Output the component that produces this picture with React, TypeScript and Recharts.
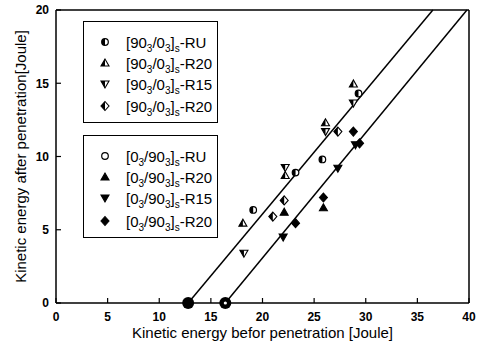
import { ScatterChart, Scatter, XAxis, YAxis, ReferenceLine } from 'recharts';

const xTicks = [0, 5, 10, 15, 20, 25, 30, 35, 40];
const yTicks = [0, 5, 10, 15, 20];

// [90_3/0_3]s group (half-filled markers)
const cross90RU = [
  { x: 19.1, y: 6.35 },
  { x: 23.2, y: 8.9 },
  { x: 25.8, y: 9.8 },
  { x: 29.3, y: 14.3 },
];
const cross90R20 = [
  { x: 18.1, y: 5.45 },
  { x: 22.2, y: 8.7 },
  { x: 26.1, y: 12.3 },
  { x: 28.8, y: 14.95 },
];
const cross90R15 = [
  { x: 18.2, y: 3.4 },
  { x: 22.2, y: 9.25 },
  { x: 26.1, y: 11.7 },
  { x: 28.8, y: 13.65 },
];
const cross90R20b = [
  { x: 21.0, y: 5.9 },
  { x: 22.1, y: 7.0 },
  { x: 27.3, y: 11.7 },
];

// [0_3/90_3]s group
const cross0RU = [{ x: 16.4, y: 0 }];
const cross0R20 = [
  { x: 22.1, y: 6.2 },
  { x: 25.9, y: 6.5 },
];
const cross0R15 = [
  { x: 22.0, y: 4.5 },
  { x: 27.3, y: 9.2 },
  { x: 29.0, y: 10.8 },
];
const cross0R20b = [
  { x: 23.2, y: 5.45 },
  { x: 25.9, y: 7.2 },
  { x: 28.8, y: 11.7 },
  { x: 29.4, y: 10.9 },
];

const intercept = [{ x: 12.8, y: 0 }];

// fitted lines
const fit1 = [
  { x: 12.8, y: 0 },
  { x: 36.5, y: 20 },
];
const fit2 = [
  { x: 16.4, y: 0 },
  { x: 39.8, y: 20 },
];

const font = '"Liberation Sans", Arial, sans-serif';

type Kind = 'circle' | 'up' | 'down' | 'diamond';

function Mark({ kind, fill, cx, cy }: { kind: Kind; fill: 'open' | 'half' | 'full'; cx: number; cy: number }) {
  const body = fill === 'full' ? '#000' : '#fff';
  let outline: JSX.Element;
  let half: JSX.Element | null = null;
  if (kind === 'circle') {
    outline = <circle cx={cx} cy={cy} r={3.3} fill={body} stroke="#000" strokeWidth={1.2} />;
    half = <path d={`M${cx},${cy - 3.3} A3.3,3.3 0 0 0 ${cx},${cy + 3.3} Z`} fill="#000" />;
  } else if (kind === 'up') {
    outline = <polygon points={`${cx},${cy - 4} ${cx - 4},${cy + 3} ${cx + 4},${cy + 3}`} fill={body} stroke="#000" strokeWidth={1.1} />;
    half = <polygon points={`${cx},${cy - 4} ${cx - 4},${cy + 3} ${cx},${cy + 3}`} fill="#000" />;
  } else if (kind === 'down') {
    outline = <polygon points={`${cx},${cy + 4} ${cx - 4},${cy - 3} ${cx + 4},${cy - 3}`} fill={body} stroke="#000" strokeWidth={1.1} />;
    half = <polygon points={`${cx},${cy + 4} ${cx - 4},${cy - 3} ${cx},${cy - 3}`} fill="#000" />;
  } else {
    outline = <polygon points={`${cx},${cy - 4.5} ${cx + 4},${cy} ${cx},${cy + 4.5} ${cx - 4},${cy}`} fill={body} stroke="#000" strokeWidth={1.1} />;
    half = <polygon points={`${cx},${cy - 4.5} ${cx - 4},${cy} ${cx},${cy + 4.5}`} fill="#000" />;
  }
  return (
    <g>
      {outline}
      {fill === 'half' ? half : null}
    </g>
  );
}

const shape = (kind: Kind, fill: 'open' | 'half' | 'full') => (p: any) => (
  <Mark kind={kind} fill={fill} cx={p.cx} cy={p.cy} />
);

const bigDot = (hollow: boolean) => (p: any) => (
  <g>
    <circle cx={p.cx} cy={p.cy} r={6} fill="#000" />
    {hollow ? <circle cx={p.cx} cy={p.cy} r={1.6} fill="#fff" /> : null}
  </g>
);

const noShape = () => <g />;

const legendTop = [
  { kind: 'circle' as Kind, fill: 'half' as const, a: '90', b: '0', tail: '-RU' },
  { kind: 'up' as Kind, fill: 'half' as const, a: '90', b: '0', tail: '-R20' },
  { kind: 'down' as Kind, fill: 'half' as const, a: '90', b: '0', tail: '-R15' },
  { kind: 'diamond' as Kind, fill: 'half' as const, a: '90', b: '0', tail: '-R20' },
];
const legendBottom = [
  { kind: 'circle' as Kind, fill: 'open' as const, a: '0', b: '90', tail: '-RU' },
  { kind: 'up' as Kind, fill: 'full' as const, a: '0', b: '90', tail: '-R20' },
  { kind: 'down' as Kind, fill: 'full' as const, a: '0', b: '90', tail: '-R15' },
  { kind: 'diamond' as Kind, fill: 'full' as const, a: '0', b: '90', tail: '-R20' },
];

const sub = { fontSize: 10, verticalAlign: 'sub' as const, lineHeight: 0 };

function LegendBox({ top, height, rows, rowY }: { top: number; height: number; rows: typeof legendTop; rowY: number[] }) {
  return (
    <div
      style={{
        position: 'absolute',
        left: 83,
        top,
        width: 133,
        height,
        border: '1.5px solid #000',
        background: '#fff',
        fontFamily: font,
        fontSize: 15,
        color: '#000',
      }}
    >
      {rows.map((r, i) => (
        <div key={i} style={{ position: 'absolute', left: 14, top: rowY[i] - 9, height: 18, display: 'flex', alignItems: 'center', whiteSpace: 'nowrap' }}>
          <svg width={14} height={14} style={{ marginRight: 14 }}>
            <Mark kind={r.kind} fill={r.fill} cx={7} cy={7} />
          </svg>
          <span>
            [{r.a}
            <span style={sub}>3</span>/{r.b}
            <span style={sub}>3</span>]<span style={sub}>s</span>
            {r.tail}
          </span>
        </div>
      ))}
    </div>
  );
}

const YTitle = (props: any) => {
  const vb = props.viewBox || { y: 10, height: 293 };
  const cy = vb.y + vb.height / 2;
  return (
    <text
      x={20}
      y={cy}
      transform={`rotate(-90, 20, ${cy})`}
      textAnchor="middle"
      dominantBaseline="central"
      fill="#000"
      fontSize={15}
      fontFamily={font}
    >
      Kinetic energy after penetration[Joule]
    </text>
  );
};

export default function App() {
  return (
    <div style={{ position: 'absolute', left: 0, top: 0, width: 481, height: 349, background: '#fff' }}>
      <ScatterChart width={481} height={349} margin={{ top: 10, right: 12, bottom: 0, left: 0 }}>
        <XAxis
          dataKey="x"
          type="number"
          domain={[0, 40]}
          ticks={xTicks}
          interval={0}
          height={46}
          tickSize={-5}
          tickMargin={14}
          axisLine={{ stroke: '#000', strokeWidth: 1.5 }}
          tickLine={{ stroke: '#000', strokeWidth: 1.2 }}
          tick={{ fill: '#000', fontSize: 12, fontWeight: 700, fontFamily: font }}
          label={{
            value: 'Kinetic energy befor penetration [Joule]',
            position: 'insideBottom',
            offset: 11,
            style: { fill: '#000', fontSize: 15, fontFamily: font },
          }}
        />
        <YAxis
          dataKey="y"
          type="number"
          domain={[0, 20]}
          ticks={yTicks}
          interval={0}
          width={56}
          tickSize={-5}
          tickMargin={12}
          axisLine={{ stroke: '#000', strokeWidth: 1.5 }}
          tickLine={{ stroke: '#000', strokeWidth: 1.2 }}
          tick={{ fill: '#000', fontSize: 12, fontWeight: 700, fontFamily: font }}
          label={{ content: YTitle, position: 'insideLeft' }}
        />
        <ReferenceLine x={40} stroke="#000" strokeWidth={1.5} />
        <ReferenceLine y={20} stroke="#000" strokeWidth={1.5} />
        <Scatter data={fit1} line={{ stroke: '#000', strokeWidth: 1.5 }} shape={noShape} isAnimationActive={false} />
        <Scatter data={fit2} line={{ stroke: '#000', strokeWidth: 1.5 }} shape={noShape} isAnimationActive={false} />
        <Scatter data={cross90RU} shape={shape('circle', 'half')} isAnimationActive={false} />
        <Scatter data={cross90R20} shape={shape('up', 'half')} isAnimationActive={false} />
        <Scatter data={cross90R15} shape={shape('down', 'half')} isAnimationActive={false} />
        <Scatter data={cross90R20b} shape={shape('diamond', 'half')} isAnimationActive={false} />
        <Scatter data={cross0R20} shape={shape('up', 'full')} isAnimationActive={false} />
        <Scatter data={cross0R15} shape={shape('down', 'full')} isAnimationActive={false} />
        <Scatter data={cross0R20b} shape={shape('diamond', 'full')} isAnimationActive={false} />
        <Scatter data={intercept} shape={bigDot(false)} isAnimationActive={false} />
        <Scatter data={cross0RU} shape={bigDot(true)} isAnimationActive={false} />
      </ScatterChart>
      <LegendBox top={21} height={100} rows={legendTop} rowY={[20, 41, 62, 84]} />
      <LegendBox top={135} height={101} rows={legendBottom} rowY={[20, 41, 62, 85]} />
    </div>
  );
}
